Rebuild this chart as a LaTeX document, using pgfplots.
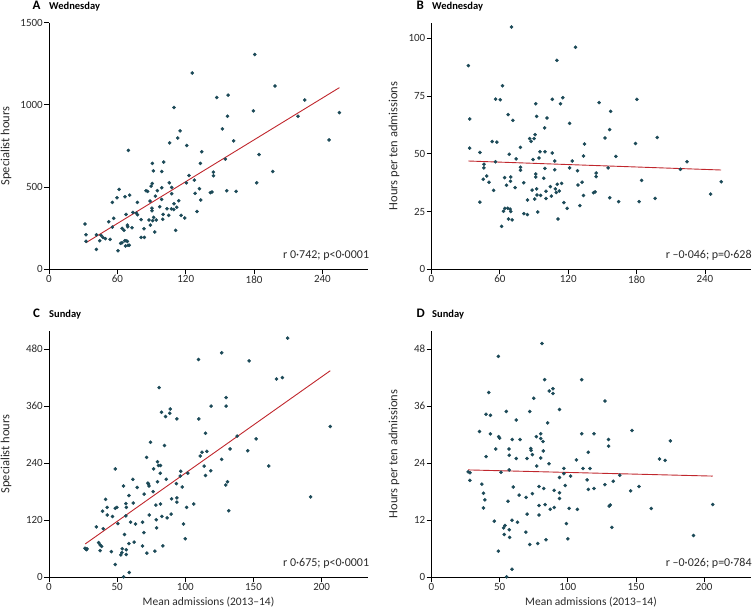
\documentclass[border=0pt]{standalone}
\usepackage{fontspec}
\setmainfont{Carlito}
\usepackage{pgfplots}
\pgfplotsset{compat=1.18}
\definecolor{dotc}{HTML}{1B4957}
\definecolor{linec}{HTML}{C0272D}
\definecolor{txt}{HTML}{2A2A2A}
\pgfplotsset{
 panel/.style={scale only axis, width=319pt, height=246.6pt, anchor=south west,
   axis lines=left, axis line style={-, line width=0.8pt},
   tick align=outside, major tick length=5pt, tick style={black, line width=0.8pt},
   clip=false,
   tick label style={font=\fontsize{11}{13}\selectfont, text=txt, inner sep=1pt},
   ylabel style={font=\fontsize{12.5}{14}\selectfont, text=txt, at={(rel axis cs:0,0.5)}, anchor=center},
   xlabel style={font=\fontsize{11.5}{14}\selectfont, text=txt, at={(rel axis cs:0.5,0)}, anchor=center, yshift=-25pt},
   /pgf/number format/assume math mode=true,
   /pgf/number format/set thousands separator={},
   xmin=0, ymin=0},
 dots/.style={only marks, mark=*, mark size=1.6pt, mark options={draw=dotc, fill=dotc}},
 fitl/.style={linec, line width=0.9pt, no marks},
}
\newcommand{\stat}[1]{\node[anchor=base east, font=\fontsize{12}{14}\selectfont, text=txt, inner sep=0pt] at (rel axis cs:1.004,0.042) {#1};}
\begin{document}
\begin{tikzpicture}
\useasboundingbox (0,0) rectangle (756pt,613pt);
% titles
\node[anchor=base west, inner sep=0pt, font=\fontsize{13}{15}\selectfont\bfseries] at (32.5pt,603.5pt) {A};
\node[anchor=base west, inner sep=0pt, font=\fontsize{10.5}{12}\selectfont\bfseries] at (49pt,603.5pt) {Wednesday};
\node[anchor=base west, inner sep=0pt, font=\fontsize{13}{15}\selectfont\bfseries] at (416.5pt,603.5pt) {B};
\node[anchor=base west, inner sep=0pt, font=\fontsize{10.5}{12}\selectfont\bfseries] at (432pt,603.5pt) {Wednesday};
\node[anchor=base west, inner sep=0pt, font=\fontsize{13}{15}\selectfont\bfseries] at (33pt,295pt) {C};
\node[anchor=base west, inner sep=0pt, font=\fontsize{10.5}{12}\selectfont\bfseries] at (49pt,295pt) {Sunday};
\node[anchor=base west, inner sep=0pt, font=\fontsize{13}{15}\selectfont\bfseries] at (416.5pt,295pt) {D};
\node[anchor=base west, inner sep=0pt, font=\fontsize{10.5}{12}\selectfont\bfseries] at (432pt,295pt) {Sunday};

% Panel A
\begin{axis}[panel, at={(49pt,343.7pt)}, xmax=280, ymax=1500,
  xtick={0,60,120,180,240}, ytick={0,500,1000,1500}, ylabel={Specialist hours},
  ylabel style={yshift=43pt}]
\addplot[dots] coordinates {
(31.6,275) (32.5,210) (32.5,170) (41.6,121) (41.6,210) (44.5,174) (45.7,206) (47.4,194)
(49.5,186) (53.6,182) (52.4,289) (55.6,257) (56.8,310) (55.6,407) (59.7,435) (61.5,486)
(60.6,113) (62.9,158) (64.1,162) (64.1,249) (65.8,237) (66.5,174) (67.1,142) (67.6,174)
(68.8,170) (69.4,146) (70.5,146) (67.6,334) (68.8,269) (69.1,259) (66.7,441) (70.8,451)
(69.7,723) (72.9,253) (73.7,346) (76.7,342) (77.6,332) (77.6,407) (80.8,302) (80.8,194)
(83.7,194) (83.4,247) (85.2,478) (86.6,474) (87.8,300) (88.7,415) (89.0,269) (89.6,506)
(90.7,522) (90.7,644) (91.6,599) (90.4,372) (90.4,356) (91.0,296) (91.9,316) (92.8,227)
(93.4,445) (94.2,300) (95.1,478) (97.2,381) (98.9,496) (98.9,595) (98.9,425) (99.8,304)
(100.7,652) (100.1,334) (103.6,368) (105.1,328) (105.6,526) (105.9,769) (107.4,368) (107.7,498)
(107.7,460) (109.5,364) (109.7,984) (109.7,399) (111.2,237) (112.1,377) (113.0,798) (113.8,417)
(115.0,842) (115.9,328) (119.1,312) (120.6,526) (120.9,753) (122.9,571) (125.8,1194) (127.6,543)
(128.2,462) (129.9,352) (132.0,490) (132.9,644) (133.2,421) (134.0,715) (141.6,466) (143.1,470)
(144.3,591) (144.3,569) (147.2,1045) (152.2,854) (154.8,670) (156.0,478) (156.6,931) (157.2,1059)
(162.1,781) (164.2,474) (179.4,964) (180.6,1306) (182.3,526) (184.4,698) (196.4,595) (198.4,1115)
(218.6,931) (224.5,1030) (245.8,787) (254.9,953)
};
\addplot[fitl] coordinates {(32.5,162) (254.9,1105)};
\stat{r 0·742; p<0·0001}
\end{axis}

% Panel B
\begin{axis}[panel, at={(431.5pt,343.7pt)}, xmax=280, ymax=106.8,
  xtick={0,60,120,180,240}, ytick={0,25,50,75,100}, ylabel={Hours per ten admissions},
  ylabel style={yshift=37.5pt}]
\addplot[dots] coordinates {
(32.3,88.2) (33.5,65.1) (33.5,52.5) (42.5,50.6) (42.5,29.1) (46.0,45.5) (46.0,43.9) (45.4,39.0)
(48.4,40.4) (50.4,37.7) (53.3,55.3) (54.5,34.2) (56.2,73.7) (56.2,46.6) (57.4,55.1) (60.3,73.4)
(62.3,79.5) (61.5,18.6) (63.2,25.1) (64.1,39.7) (64.4,26.4) (65.8,36.4) (66.9,26.4) (67.3,67.0)
(67.6,21.8) (68.2,49.8) (69.0,26.1) (69.3,38.1) (69.6,40.0) (69.6,25.0) (70.2,104.9) (70.8,21.4)
(71.4,64.5) (73.4,35.4) (74.3,47.8) (78.1,52.8) (78.1,44.2) (78.1,42.9) (81.0,37.5) (81.0,24.1)
(84.2,23.7) (84.2,30.0) (86.2,56.6) (87.4,55.4) (88.3,34.3) (89.1,47.5) (90.0,56.6) (90.6,30.4)
(90.9,58.3) (91.5,71.7) (91.5,41.3) (91.5,40.0) (92.3,66.2) (92.3,34.8) (92.6,32.2) (93.2,24.8)
(94.4,48.2) (95.3,50.9) (95.8,32.0) (98.5,39.4) (99.3,61.2) (99.6,50.9) (99.6,43.7) (100.5,30.7)
(100.5,33.8) (101.4,65.5) (104.3,35.8) (105.2,31.7) (106.0,50.4) (106.0,73.6) (108.1,46.9) (108.1,43.1)
(108.7,34.8) (109.5,33.3) (110.1,90.5) (110.4,36.8) (111.0,21.8) (112.1,33.9) (113.3,71.7) (114.2,37.2)
(115.3,74.3) (116.2,28.9) (119.1,26.4) (121.2,63.2) (121.2,43.9) (123.5,46.9) (126.4,96.2) (128.2,42.7)
(128.5,36.5) (130.2,27.6) (132.2,37.7) (133.4,49.1) (133.4,32.0) (134.3,54.3) (142.2,33.2) (143.6,33.5)
(144.5,41.7) (144.5,40.1) (147.1,72.2) (152.3,56.9) (155.0,43.9) (156.4,60.5) (156.4,31.0) (157.3,68.4)
(161.9,48.9) (164.3,29.3) (179.1,54.5) (180.3,73.6) (182.3,29.3) (184.4,38.5) (196.3,30.7) (198.1,57.1)
(218.5,43.3) (224.3,46.6) (245.0,32.6) (254.3,37.9)
};
\addplot[fitl] coordinates {(32.3,46.9) (254.3,43.0)};
\stat{r –0·046; p=0·628}
\end{axis}

% Panel C
\begin{axis}[panel, at={(49pt,35.7pt)}, xmax=234, ymax=518.6,
  xtick={0,50,100,150,200}, ytick={0,120,240,360,480}, ylabel={Specialist hours},
  ylabel style={yshift=43pt},
  xlabel={Mean admissions (2013–14)}]
\addplot[dots] coordinates {
(26.4,61) (27.1,59) (27.6,58) (27.8,60) (34.7,106) (36.4,73) (37.5,56) (37.5,68)
(38.6,65) (39.3,139) (39.8,102) (41.5,164) (42.7,131) (42.7,147) (45.7,54) (46.6,128)
(48.6,228) (48.6,145) (48.6,27) (49.8,147) (50.5,113) (52.7,47) (53.5,52) (53.7,60)
(54.7,192) (54.7,1) (55.4,90) (56.4,129) (56.4,155) (56.7,147) (56.7,58) (56.7,48)
(58.6,172) (58.6,71) (58.9,10) (59.8,116) (61.5,206) (61.8,156) (62.5,74) (63.5,112)
(64.7,189) (68.6,116) (68.6,66) (69.6,94) (69.8,175) (71.6,252) (71.8,51) (72.5,198)
(73.0,196) (73.3,192) (73.5,131) (74.5,284) (76.4,180) (76.7,228) (77.7,55) (78.4,152)
(78.6,121) (78.9,104) (79.6,201) (79.6,243) (80.3,235) (80.8,399) (81.6,219) (81.8,235)
(81.8,154) (82.5,347) (82.8,128) (83.5,66) (84.7,277) (85.5,338) (86.0,206) (86.7,125)
(88.6,345) (88.9,354) (89.6,133) (89.9,165) (93.5,197) (93.8,333) (93.8,167) (93.8,158)
(96.2,213) (96.7,223) (97.7,190) (98.7,112) (99.9,81) (100.9,147) (101.8,219) (106.2,154)
(109.6,458) (109.9,333) (110.9,255) (112.3,263) (113.8,234) (114.8,214) (114.8,303) (115.8,265)
(118.7,224) (118.9,360) (126.7,472) (126.7,248) (129.7,194) (129.9,378) (129.9,360) (130.9,201)
(131.9,140) (132.8,270) (138.0,297) (145.8,266) (146.8,455) (151.9,291) (161.2,234) (166.8,417)
(171.2,420) (175.1,503) (191.9,169) (206.3,317)
};
\addplot[fitl] coordinates {(26.6,70.2) (206.3,434.4)};
\stat{r 0·675; p<0·0001}
\end{axis}

% Panel D
\begin{axis}[panel, at={(431.5pt,35.7pt)}, xmax=234, ymax=51.9,
  xtick={0,50,100,150,200}, ytick={0,12,24,36,48}, ylabel={Hours per ten admissions},
  ylabel style={yshift=37.5pt},
  xlabel={Mean admissions (2013–14)}]
\addplot[dots] coordinates {
(26.9,22.2) (28.2,22.0) (28.2,20.4) (35.2,30.7) (36.9,19.6) (38.1,17.7) (38.1,14.6) (39.1,16.3)
(40.0,25.4) (40.0,34.3) (42.0,38.9) (43.2,34.1) (43.2,30.2) (46.1,11.8) (47.1,27.0) (49.0,46.5)
(49.0,5.5) (49.3,29.6) (50.0,29.3) (51.0,22.1) (52.9,10.4) (53.4,9.0) (53.9,10.9) (54.9,34.9)
(55.1,0.1) (56.1,16.0) (56.8,27.0) (57.0,25.7) (57.0,22.6) (57.0,10.0) (57.3,8.4) (59.0,12.0)
(59.0,1.7) (59.2,29.0) (60.0,19.0) (62.1,33.1) (62.1,25.0) (63.1,11.6) (64.3,17.3) (65.0,29.0)
(69.2,9.5) (69.4,16.8) (70.1,25.0) (70.1,13.3) (72.1,34.9) (72.1,6.9) (72.8,27.1) (73.1,26.7)
(74.0,25.8) (74.0,17.6) (75.0,37.7) (76.9,29.6) (77.2,23.4) (77.9,7.1) (78.9,19.1) (78.9,15.1)
(78.9,13.1) (80.1,30.2) (80.1,29.2) (80.1,25.1) (81.1,49.2) (81.8,28.6) (82.0,26.6) (82.3,18.7)
(83.0,41.6) (83.3,15.3) (84.0,7.9) (85.2,32.5) (86.2,23.9) (86.4,39.2) (87.1,14.3) (89.1,39.7)
(89.1,38.7) (90.0,18.3) (90.0,14.7) (93.9,35.3) (93.9,21.0) (93.9,17.8) (93.9,16.6) (97.1,22.9)
(97.1,21.8) (98.1,19.3) (99.0,11.3) (100.0,8.1) (101.0,14.5) (102.0,21.3) (106.3,24.7) (107.0,14.3)
(110.2,41.6) (110.2,30.2) (111.2,22.9) (114.1,20.5) (115.0,26.3) (115.0,18.5) (116.3,22.9) (119.2,18.7)
(119.2,30.2) (127.2,37.1) (127.2,19.5) (129.9,29.0) (129.9,27.6) (130.3,15.0) (131.1,15.2) (132.3,10.5)
(133.3,20.2) (138.1,21.5) (146.1,18.2) (147.1,30.9) (152.2,19.1) (161.2,14.5) (167.2,24.9) (171.4,24.6)
(175.2,28.7) (192.2,8.8) (206.3,15.3)
};
\addplot[fitl] coordinates {(26.9,22.6) (206.3,21.3)};
\stat{r –0·026; p=0·784}
\end{axis}
\end{tikzpicture}
\end{document}
